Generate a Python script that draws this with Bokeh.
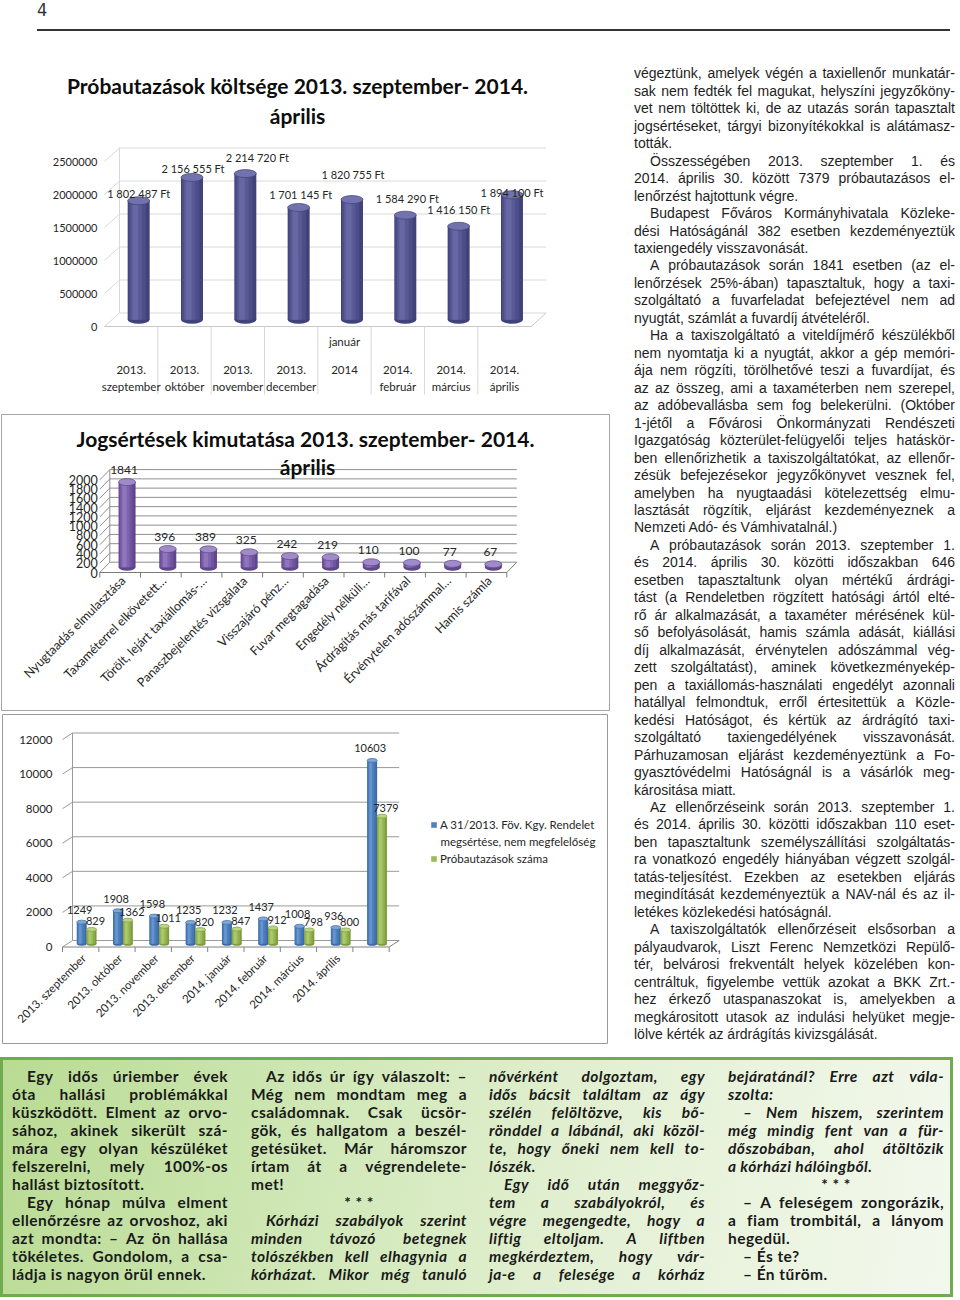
import math
from html import escape

from bokeh.core.properties import value
from bokeh.embed import file_html
from bokeh.layouts import column, row
from bokeh.models import ColumnDataSource, Div, Label, LabelSet, Legend, LegendItem, Range1d
from bokeh.plotting import figure
from bokeh.resources import INLINE

CHART_FONT = "Lato"
INK = "#262626"

# ---------------- data ----------------
cost_years = ["2013.", "2013.", "2013.", "2013.", "2014", "2014.", "2014.", "2014."]
cost_months = ["szeptember", "október", "november", "december", "január", "február", "március", "április"]
cost_values = [1802487, 2156555, 2214720, 1701145, 1820755, 1584290, 1416150, 1894100]
cost_ticks = [0, 500000, 1000000, 1500000, 2000000, 2500000]

viol_categories = ["Nyugtaadás elmulasztása", "Taxaméterrel elkövetett…", "Törölt, lejárt taxiállomás-…",
                   "Panaszbejelentés vizsgálata", "Visszajáró pénz…", "Fuvar megtagadása",
                   "Engedély nélküli…", "Árdrágítás más tarifával", "Érvénytelen adószámmal…",
                   "Hamis számla"]
viol_values = [1841, 396, 389, 325, 242, 219, 110, 100, 77, 67]
viol_ticks = [0, 200, 400, 600, 800, 1000, 1200, 1400, 1600, 1800, 2000]

trip_months = ["2013. szeptember", "2013. október", "2013. november", "2013. december",
               "2014. január", "2014. február", "2014. március", "2014. április"]
breach_values = [1249, 1908, 1598, 1235, 1232, 1437, 1008, 936, 10603]
trip_values = [829, 1362, 1011, 820, 847, 912, 798, 800, 7379]
trip_ticks = [0, 2000, 4000, 6000, 8000, 10000, 12000]
breach_name = ["A 31/2013. Föv. Kgy. Rendelet", "megsértése, nem megfelelőség"]
trip_name = "Próbautazások száma"

# label placement tweaks (pixels), kept apart from the data
cost_label_lift = [7, 9, 16, 13, 25, 17, 17, 2]
cost_label_shift = [0, 1, 12, 2, 1, 2, 0, 0]
cost_month_drop = [-60, -60, -60, -60, -15, -60, -60, -60]

# ---------------- left panel: one svg figure, page pixel coordinates ----------------
PANEL_W, PANEL_TOP, PANEL_BOTTOM = 610, 50, 1045
p = figure(width=PANEL_W, height=PANEL_BOTTOM - PANEL_TOP,
           x_range=Range1d(0, PANEL_W), y_range=Range1d(PANEL_BOTTOM, PANEL_TOP),
           x_axis_location=None, y_axis_location=None, title=None,
           output_backend="svg", toolbar_location=None,
           min_border_left=0, min_border_right=0, min_border_top=0, min_border_bottom=0)
p.grid.visible = False
p.outline_line_color = None
p.background_fill_color = "white"
p.border_fill_color = "white"

ranges_x, ranges_y = {}, {}


def chart_ranges(name, x_left, ux, zero_px, k):
    ranges_x[name] = Range1d(-0.5 - x_left / ux, -0.5 + (PANEL_W - x_left) / ux)
    ranges_y[name] = Range1d((zero_px - PANEL_BOTTOM) * k, (zero_px - PANEL_TOP) * k)


# chart geometry: left edge of first category (px), px per category, px of value 0, units per px
K1, UX1 = 500000 / 33.0, 53.33
K2, UX2 = 1000 / 46.3, 40.7
K3, UX3 = 12000 / 207.5, 36.3
chart_ranges("c1", 104, UX1, 326, K1)
chart_ranges("c2", 99.3, UX2, 572, K2)
chart_ranges("c3", 62, UX3, 946.5, K3)
p.extra_x_ranges = ranges_x
p.extra_y_ranges = ranges_y


def rn(name):
    return dict(x_range_name=name, y_range_name=name)


def wall(name, ncat, ticks, dxu, dyu, grid_color, floor_color):
    xl, xr = -0.5, ncat - 0.5
    n = len(ticks)
    back = [t + dyu for t in ticks]
    p.segment(x0=[xl + dxu] * n, y0=back, x1=[xr + dxu] * n, y1=back, line_color=grid_color, **rn(name))
    p.segment(x0=[xl] * n, y0=ticks, x1=[xl + dxu] * n, y1=back, line_color=grid_color, **rn(name))
    p.segment(x0=[xl + dxu], y0=[dyu], x1=[xl + dxu], y1=[ticks[-1] + dyu], line_color=grid_color, **rn(name))
    p.segment(x0=[xl, xr], y0=[0, 0], x1=[xr, xr + dxu], y1=[0, dyu], line_color=floor_color, **rn(name))


def cylinders(name, xs, vals, base, wu, wpx, eh, shades, top_fill):
    tops = [v + base for v in vals]
    bottoms = [base] * len(vals)
    p.ellipse(x=xs, y=bottoms, width=wpx, height=eh, width_units="screen", height_units="screen",
              fill_color=shades[0], line_color=None, **rn(name))
    rs = []
    for frac, shift, col in zip((1.0, 0.78, 0.52, 0.26), (0.0, -0.06, -0.11, -0.15), shades):
        rs.append(p.vbar(x=[x + shift * wu for x in xs], bottom=bottoms, top=tops, width=wu * frac,
                         fill_color=col, line_color=None, **rn(name)))
    p.ellipse(x=xs, y=tops, width=wpx, height=eh, width_units="screen", height_units="screen",
              fill_color=top_fill, line_color=shades[0], line_width=0.7, **rn(name))
    return rs


def labels(name, xs, ys, texts, size, **kw):
    p.add_layout(LabelSet(x="x", y="y", text="text",
                          source=ColumnDataSource(dict(x=list(xs), y=list(ys), text=list(texts))),
                          text_font=value(CHART_FONT), text_font_size=size, text_color=INK,
                          **rn(name), **kw))


def y_tick_labels(name, ticks, size, standoff):
    labels(name, [-0.5] * len(ticks), ticks, [str(t) for t in ticks], size,
           x_offset=-standoff, text_align="right", text_baseline="middle")


def title(px, py, text):
    p.add_layout(Label(x=px, y=py, text=text, text_font=CHART_FONT, text_font_style="bold",
                       text_font_size="21px", text_align="center", text_baseline="middle",
                       text_color="#0d0d0d"))


# ---------------- chart 1: costs ----------------
n1 = len(cost_values)
dxu1, dyu1 = 15 / UX1, 13.5 * K1
wall("c1", n1, cost_ticks, dxu1, dyu1, "#d9d9d9", "#c8c8c8")
p.segment(x0=[i + 0.5 for i in range(n1 - 1)], y0=[0] * (n1 - 1),
          x1=[i + 0.5 for i in range(n1 - 1)], y1=[-68 * K1] * (n1 - 1),
          line_color="#d9d9d9", **rn("c1"))
xs1 = [i + dxu1 / 2 for i in range(n1)]
cylinders("c1", xs1, cost_values, dyu1 / 2, 22 / UX1, 22, 8,
          ["#42427a", "#4d4d88", "#595995", "#6767a3"], "#7272ae")
p.add_layout(LabelSet(
    x="x", y="y", text="text", x_offset="dx", y_offset="dy",
    source=ColumnDataSource(dict(x=xs1, y=[v + dyu1 / 2 for v in cost_values],
                                 text=[f"{v:,}".replace(",", " ") + " Ft" for v in cost_values],
                                 dx=cost_label_shift, dy=cost_label_lift)),
    text_align="center", text_baseline="middle", text_font=value(CHART_FONT),
    text_font_size="11px", text_color=INK, **rn("c1")))
labels("c1", range(n1), [0] * n1, cost_years, "11.5px", y_offset=-43,
       text_align="center", text_baseline="middle")
p.add_layout(LabelSet(
    x="x", y="y", text="text", y_offset="dy",
    source=ColumnDataSource(dict(x=list(range(n1)), y=[0] * n1, text=cost_months, dy=cost_month_drop)),
    text_align="center", text_baseline="middle", text_font=value(CHART_FONT),
    text_font_size="11.5px", text_color=INK, **rn("c1")))
y_tick_labels("c1", cost_ticks, "11px", 7)
title(297, 85, "Próbautazások költsége 2013. szeptember- 2014.")
title(297, 114.5, "április")

# ---------------- chart 2: violations ----------------
p.quad(left=[1], right=[609], top=[414], bottom=[710], fill_color=None, line_color="#a3a3a3")
n2 = len(viol_values)
dxu2, dyu2 = 10 / UX2, 10.3 * K2
wall("c2", n2, viol_ticks, dxu2, dyu2, "#8f8f8f", "#7a7a7a")
p.segment(x0=[i - 0.5 for i in range(n2 + 1)], y0=[0] * (n2 + 1),
          x1=[i - 0.5 for i in range(n2 + 1)], y1=[-5 * K2] * (n2 + 1),
          line_color="#7a7a7a", **rn("c2"))
xs2 = [i + 0.17 for i in range(n2)]
cylinders("c2", xs2, viol_values, dyu2 / 2, 17 / UX2, 17, 7,
          ["#60468a", "#6f539d", "#7e62ad", "#8f75bd"], "#a08bc9")
labels("c2", xs2, [v + dyu2 / 2 for v in viol_values], [str(v) for v in viol_values], "12px",
       x_offset=-3, y_offset=12, text_align="center", text_baseline="middle")
labels("c2", range(n2), [0] * n2, viol_categories, "12.5px", angle=math.pi / 4,
       x_offset=3, y_offset=-6, text_align="right", text_baseline="middle")
y_tick_labels("c2", viol_ticks, "12.5px", 2)
title(305, 438, "Jogsértések kimutatása 2013. szeptember- 2014.")
title(307, 466, "április")

# ---------------- chart 3: monthly counts ----------------
p.quad(left=[2], right=[607], top=[714], bottom=[1043], fill_color=None, line_color="#9a9a9a")
n3 = len(breach_values)
dxu3, dyu3 = 10 / UX3, 6.5 * K3
wall("c3", n3, trip_ticks, dxu3, dyu3, "#9a9a9a", "#808080")
p.segment(x0=[i - 0.5 for i in range(n3 + 1)], y0=[0] * (n3 + 1),
          x1=[i - 0.5 for i in range(n3 + 1)], y1=[-5 * K3] * (n3 + 1),
          line_color="#808080", **rn("c3"))
xs3b = [i + 0.03 for i in range(n3)]
xs3g = [i + 0.30 for i in range(n3)]
rb = cylinders("c3", xs3b, breach_values, dyu3 / 2, 10 / UX3, 10, 4,
               ["#3b6aa6", "#4677b5", "#4f81bd", "#6695cd"], "#80a8d6")
rg = cylinders("c3", xs3g, trip_values, dyu3 / 2, 10 / UX3, 10, 4,
               ["#7d9b3d", "#8cad4a", "#9bbb59", "#abc96c"], "#bcd585")
labels("c3", xs3b, [v + dyu3 / 2 for v in breach_values], [str(v) for v in breach_values], "11px",
       x_offset=-2, y_offset=12, text_align="center", text_baseline="middle")
labels("c3", xs3g, [v + dyu3 / 2 for v in trip_values], [str(v) for v in trip_values], "11px",
       x_offset=4, y_offset=8, text_align="center", text_baseline="middle")
labels("c3", range(len(trip_months)), [0] * len(trip_months), trip_months, "11.5px",
       angle=math.pi / 4, x_offset=3, y_offset=-9, text_align="right", text_baseline="middle")
y_tick_labels("c3", trip_ticks, "11.5px", 10)
for loc_y, lab, rend in ((214, breach_name[0], rb[2]), (180, trip_name, rg[2])):
    p.add_layout(Legend(items=[LegendItem(label=lab, renderers=[rend])], location=(430, loc_y),
                         border_line_color=None, background_fill_alpha=0, padding=0, margin=0,
                         spacing=0, glyph_width=7, glyph_height=7, label_standoff=3, label_height=14,
                         label_text_font=CHART_FONT, label_text_font_size="11.5px",
                         label_text_color=INK))
p.add_layout(Label(x=440, y=841, text=breach_name[1], text_font=CHART_FONT, text_font_size="11.5px",
                   text_align="left", text_baseline="middle", text_color=INK))

# ---------------- page text ----------------
article = [
    ("végeztünk, amelyek végén a taxiellenőr munkatár-", "j"),
    ("sak nem fedték fel magukat, helyszíni jegyzőköny-", "j"),
    ("vet nem töltöttek ki, de az utazás során tapasztalt", "j"),
    ("jogsértéseket, tárgyi bizonyítékokkal is alátámasz-", "j"),
    ("tották.", "e"),
    ("Összességében 2013. szeptember 1. és", "i"),
    ("2014. április 30. között 7379 próbautazásos el-", "j"),
    ("lenőrzést hajtottunk végre.", "e"),
    ("Budapest Főváros Kormányhivatala Közleke-", "i"),
    ("dési Hatóságánál 382 esetben kezdeményeztük", "j"),
    ("taxiengedély visszavonását.", "e"),
    ("A próbautazások során 1841 esetben (az el-", "i"),
    ("lenőrzések 25%-ában) tapasztaltuk, hogy a taxi-", "j"),
    ("szolgáltató a fuvarfeladat befejeztével nem ad", "j"),
    ("nyugtát, számlát a fuvardíj átvételéről.", "e"),
    ("Ha a taxiszolgáltató a viteldíjmérő készülékből", "i"),
    ("nem nyomtatja ki a nyugtát, akkor a gép memóri-", "j"),
    ("ája nem rögzíti, törölhetővé teszi a fuvardíjat, és", "j"),
    ("az az összeg, ami a taxaméterben nem szerepel,", "j"),
    ("az adóbevallásba sem fog belekerülni. (Október", "j"),
    ("1-jétől a Fővárosi Önkormányzati Rendészeti", "j"),
    ("Igazgatóság közterület-felügyelői teljes hatáskör-", "j"),
    ("ben ellenőrizhetik a taxiszolgáltatókat, az ellenőr-", "j"),
    ("zésük befejezésekor jegyzőkönyvet vesznek fel,", "j"),
    ("amelyben ha nyugtaadási kötelezettség elmu-", "j"),
    ("lasztását rögzítik, eljárást kezdeményeznek a", "j"),
    ("Nemzeti Adó- és Vámhivatalnál.)", "e"),
    ("A próbautazások során 2013. szeptember 1.", "i"),
    ("és 2014. április  30. közötti időszakban 646", "j"),
    ("esetben tapasztaltunk olyan mértékű árdrági-", "j"),
    ("tást (a Rendeletben rögzített hatósági ártól elté-", "j"),
    ("rő ár alkalmazását, a taxaméter mérésének kül-", "j"),
    ("ső befolyásolását, hamis számla adását, kiállási", "j"),
    ("díj alkalmazását, érvénytelen adószámmal vég-", "j"),
    ("zett szolgáltatást), aminek következményekép-", "j"),
    ("pen a taxiállomás-használati engedélyt azonnali", "j"),
    ("hatállyal felmondtuk, erről értesitettük a Közle-", "j"),
    ("kedési Hatóságot, és kértük az árdrágító taxi-", "j"),
    ("szolgáltató taxiengedélyének visszavonását.", "j"),
    ("Párhuzamosan eljárást kezdeményeztünk a Fo-", "j"),
    ("gyasztóvédelmi Hatóságnál is a vásárlók meg-", "j"),
    ("kárositása miatt.", "e"),
    ("Az ellenőrzéseink során 2013. szeptember 1.", "i"),
    ("és 2014. április 30. közötti időszakban 110 eset-", "j"),
    ("ben tapasztaltunk személyszállítási szolgáltatás-", "j"),
    ("ra vonatkozó engedély hiányában végzett szolgál-", "j"),
    ("tatás-teljesítést. Ezekben az esetekben eljárás", "j"),
    ("megindítását kezdeményeztük a NAV-nál és az il-", "j"),
    ("letékes közlekedési hatóságnál.", "e"),
    ("A taxiszolgáltatók ellenőrzéseit elsősorban a", "i"),
    ("pályaudvarok, Liszt Ferenc Nemzetközi Repülő-", "j"),
    ("tér, belvárosi frekventált helyek közelében kon-", "j"),
    ("centráltuk, figyelembe vettük azokat a BKK Zrt.-", "j"),
    ("hez érkező utaspanaszokat is, amelyekben a", "j"),
    ("megkárositott utasok az indulási helyüket megje-", "j"),
    ("lölve kérték az árdrágítás kivizsgálását.", "e"),
]

joke_cols = [
    [("Egy idős úriember évek", "i", 0), ("óta hallási problémákkal", "j", 0),
     ("küszködött. Elment az orvo-", "j", 0), ("sához, akinek sikerült szá-", "j", 0),
     ("mára egy olyan készüléket", "j", 0), ("felszerelni, mely 100%-os", "j", 0),
     ("hallást biztosított.", "e", 0), ("Egy hónap múlva elment", "i", 0),
     ("ellenőrzésre az orvoshoz, aki", "j", 0), ("azt mondta: – Az ön hallása", "j", 0),
     ("tökéletes. Gondolom, a csa-", "j", 0), ("ládja is nagyon örül ennek.", "e", 0)],
    [("Az idős úr így válaszolt: –", "i", 0), ("Még nem mondtam meg a", "j", 0),
     ("családomnak. Csak ücsör-", "j", 0), ("gök, és hallgatom a beszél-", "j", 0),
     ("getésüket. Már háromszor", "j", 0), ("írtam át a végrendelete-", "j", 0),
     ("met!", "e", 0), ("* * *", "c", 0),
     ("Kórházi szabályok szerint", "i", 1), ("minden távozó betegnek", "j", 1),
     ("tolószékben kell elhagynia a", "j", 1), ("kórházat. Mikor még tanuló", "j", 1)],
    [("nővérként dolgoztam, egy", "j", 1), ("idős bácsit találtam az ágy", "j", 1),
     ("szélén felöltözve, kis bő-", "j", 1), ("rönddel a lábánál, aki közöl-", "j", 1),
     ("te, hogy őneki nem kell to-", "j", 1), ("lószék.", "e", 1),
     ("Egy idő után meggyőz-", "i", 1), ("tem a szabályokról, és", "j", 1),
     ("végre megengedte, hogy a", "j", 1), ("liftig eltoljam. A liftben", "j", 1),
     ("megkérdeztem, hogy vár-", "j", 1), ("ja-e a felesége a kórház", "j", 1)],
    [("bejáratánál? Erre azt vála-", "j", 1), ("szolta:", "e", 1),
     ("– Nem hiszem, szerintem", "i", 1), ("még mindig fent van a für-", "j", 1),
     ("dőszobában, ahol átöltözik", "j", 1), ("a kórházi hálóingből.", "e", 1),
     ("* * *", "c", 0), ("– A feleségem zongorázik,", "i", 0),
     ("a fiam trombitál, a lányom", "j", 0), ("hegedül.", "e", 0),
     ("– És te?", "ie", 0), ("– Én tűröm.", "ie", 0)],
]


def line_html(text, kind, lh, indent, extra=""):
    pad = indent if kind in ("i", "ie") else 0
    base = f"height:{lh}px;line-height:{lh}px;white-space:nowrap;padding-left:{pad}px;{extra}"
    if kind in ("i", "j"):
        spans = "".join(f"<span>{escape(w)}</span>" for w in text.split())
        return f'<div style="display:flex;justify-content:space-between;{base}">{spans}</div>'
    if kind == "c":
        return f'<div style="text-align:center;{base}">{escape(text)}</div>'
    return f'<div style="{base}">{escape(text)}</div>'


art_lines = "".join(line_html(t, k, 17.47, 16) for t, k in article)
text_html = (
    '<div style="position:relative;width:350px;height:995px;">'
    '<div style="position:absolute;left:24px;top:15.3px;width:321px;'
    "font-family:'Liberation Sans',Arial,sans-serif;font-size:14px;color:#1e1e1e;\">"
    f"{art_lines}</div></div>"
)

col_lefts = [12, 251, 489, 728]
cols_html = ""
for left, col in zip(col_lefts, joke_cols):
    inner = "".join(line_html(t, k, 18, 15, "font-style:italic;" if it else "") for t, k, it in col)
    cols_html += (f'<div style="position:absolute;left:{left}px;top:22px;width:216px;'
                  f"font-family:Lato,sans-serif;font-weight:bold;font-size:15.5px;letter-spacing:0.45px;"
                  f"color:#1a1a1a;\">{inner}</div>")
bottom_html = (
    '<div style="position:relative;width:960px;height:255px;">'
    '<div style="position:absolute;left:0;top:12px;width:953px;height:240px;box-sizing:border-box;'
    'border:3px solid #70ab50;background:linear-gradient(100deg,#b9db93 0%,#d1e8b8 35%,'
    '#e5f1d6 65%,#f3f8ed 100%);"></div>'
    f"{cols_html}</div>"
)

header_html = (
    '<div style="position:relative;width:960px;height:50px;">'
    '<div style="position:absolute;left:37px;top:0px;font-family:\'Liberation Sans Narrow\','
    '\'DejaVu Sans Condensed\',sans-serif;font-size:18px;line-height:20px;color:#333;">4</div>'
    '<div style="position:absolute;left:37px;top:29px;width:913px;height:2px;background:#333;"></div>'
    '</div>'
)

header = Div(text=header_html, width=960, height=50, margin=0)
text_div = Div(text=text_html, width=350, height=995, margin=0)
bottom = Div(text=bottom_html, width=960, height=255, margin=0)

mid = row(p, text_div, spacing=0)
page = column(header, mid, bottom, spacing=0)

with open("out.html", "w", encoding="utf-8") as f:
    f.write(file_html(page, INLINE, title="Próbautazások"))
